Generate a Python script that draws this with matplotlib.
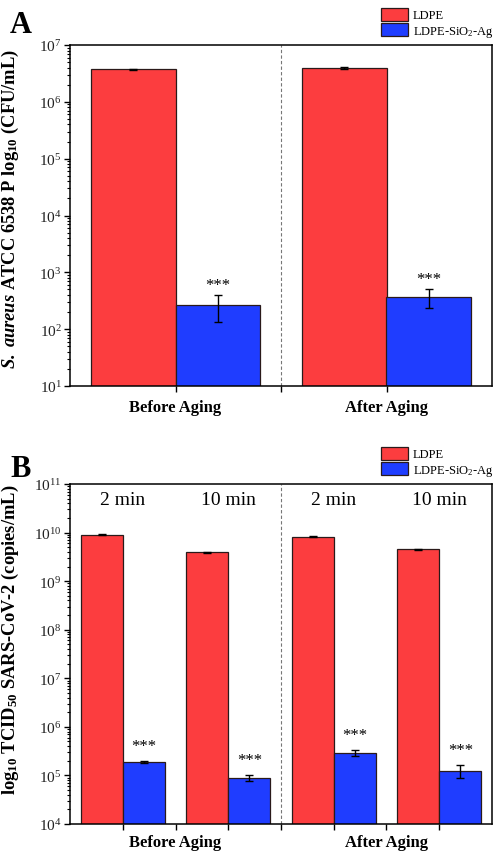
import matplotlib
matplotlib.use("Agg")
import matplotlib.pyplot as plt
import numpy as np

# ---------------- data ----------------
groups_A = ["Before Aging", "After Aging"]
ldpe_A = [3.75e6, 3.9e6]
ldpe_A_err = [0.5e5, 1.2e5]
sag_A = [267, 370]
sag_A_err = [135, 130]

groups_B = ["Before Aging", "After Aging"]
times_B = ["2 min", "10 min", "2 min", "10 min"]
ldpe_B = [9.0e9, 3.9e9, 8.2e9, 4.5e9]
ldpe_B_err = [2e8, 0.5e8, 1.5e8, 0.5e8]
sag_B = [1.9e5, 8.8e4, 2.9e5, 1.25e5]
sag_B_err = [1.0e4, 1.2e4, 4.0e4, 3.7e4]

series_labels = ["LDPE", "LDPE-SiO$_2$-Ag"]
sig_label = "***"

# ---------------- style ----------------
plt.rcParams['font.family'] = ['Liberation Serif', 'DejaVu Serif']
plt.rcParams['mathtext.fontset'] = 'custom'
plt.rcParams['mathtext.rm'] = 'Liberation Serif'
plt.rcParams['mathtext.it'] = 'Liberation Serif:italic'
plt.rcParams['mathtext.bf'] = 'Liberation Serif:bold'
plt.rcParams['mathtext.bfit'] = 'Liberation Serif:italic:bold'

RED = '#FC3D3F'
BLUE = '#1F3DFF'
EDGE = '#2a1a1a'
W, H = 493, 854
fig = plt.figure(figsize=(W / 100, H / 100), dpi=100)


def style_axes(ax, xpad):
    for s in ax.spines.values():
        s.set_linewidth(1.1)
    ax.tick_params(axis='y', which='major', direction='out', length=4, width=1,
                   labelsize=11, colors='black', labelcolor='#222', pad=2)
    ax.tick_params(axis='y', which='minor', direction='out', length=2.2, width=0.8)
    ax.tick_params(axis='x', which='major', direction='out', length=4, width=1,
                   labelsize=12, pad=xpad)
    ax.tick_params(right=False, top=False)


def add_legend(ax):
    h = [plt.Rectangle((0, 0), 1, 1, facecolor=RED, edgecolor=EDGE, lw=0.9),
         plt.Rectangle((0, 0), 1, 1, facecolor=BLUE, edgecolor=EDGE, lw=0.9)]
    ax.legend(h, series_labels, loc='lower right', bbox_to_anchor=(1.004, 1.018),
              frameon=False, fontsize=9, handlelength=2.2, handleheight=1.2,
              handletextpad=0.35, labelspacing=0.15, borderpad=0, borderaxespad=0)


# ---------------- panel A ----------------
axA = fig.add_axes([70 / W, 1 - 387 / H, 422 / W, 341 / H])
xA = np.arange(len(groups_A))
bw = 0.4
axA.bar(xA - bw / 2, ldpe_A, bw, color=RED, edgecolor=EDGE, lw=0.9,
        yerr=ldpe_A_err, error_kw=dict(ecolor='black', elinewidth=1, capsize=3, capthick=1))
axA.bar(xA + bw / 2, sag_A, bw, color=BLUE, edgecolor=EDGE, lw=0.9,
        yerr=sag_A_err, error_kw=dict(ecolor='black', elinewidth=1, capsize=3, capthick=1))
for xi, v, e in zip(xA, sag_A, sag_A_err):
    axA.annotate(sig_label, (xi + bw / 2, v + e), xytext=(0, 1.5), textcoords='offset points',
                 ha='center', va='bottom', fontsize=12)
axA.set_yscale('log')
axA.set_ylim(10, 1e7)
axA.set_xlim(-0.5, 1.5)
axA.axvline(0.5, color='#777', lw=0.8, ls=(0, (3, 2)))
axA.set_xticks(xA)
axA.set_xticklabels(groups_A, fontweight='bold')
axA.set_xticks([0.5], minor=True)
axA.tick_params(axis='x', which='minor', length=4, width=1, direction='out')
style_axes(axA, 5.5)
axA.set_ylabel(r"$\mathbfit{S.\ aureus}$ ATCC 6538 P log$_{\mathbf{10}}$ (CFU/mL)",
               fontsize=13.3, fontweight='bold', labelpad=3)
axA.yaxis.set_label_coords(-0.115, 0.522)
add_legend(axA)
fig.text(10 / W, 1 - 33 / H, "A", fontsize=22, fontweight='bold', ha='left', va='baseline')

# ---------------- panel B ----------------
axB = fig.add_axes([70 / W, 1 - 825 / H, 422 / W, 340 / H])
xB = np.arange(len(times_B))
axB.bar(xB - bw / 2, ldpe_B, bw, color=RED, edgecolor=EDGE, lw=0.9,
        yerr=ldpe_B_err, error_kw=dict(ecolor='black', elinewidth=1, capsize=3, capthick=1))
axB.bar(xB + bw / 2, sag_B, bw, color=BLUE, edgecolor=EDGE, lw=0.9,
        yerr=sag_B_err, error_kw=dict(ecolor='black', elinewidth=1, capsize=3, capthick=1))
for xi, v, e in zip(xB, sag_B, sag_B_err):
    axB.annotate(sig_label, (xi + bw / 2, v + e), xytext=(0, 5), textcoords='offset points',
                 ha='center', va='bottom', fontsize=12)
for xi, t in zip(xB, times_B):
    axB.text(xi, 4.8e10, t, ha='center', va='center', fontsize=14)
axB.set_yscale('log')
axB.set_ylim(1e4, 1e11)
axB.set_xlim(-0.5, 3.5)
axB.axvline(1.5, color='#777', lw=0.8, ls=(0, (3, 2)))
axB.set_xticks([0.5, 2.5])
axB.set_xticklabels(groups_B, fontweight='bold')
axB.set_xticks(list(xB) + [1.5], minor=True)
axB.tick_params(axis='x', which='minor', length=4, width=1, direction='out')
style_axes(axB, 3.5)
axB.set_ylabel(r"log$_{\mathbf{10}}$ TCID$_{\mathbf{50}}$ SARS-CoV-2 (copies/mL)",
               fontsize=13.3, fontweight='bold', labelpad=3)
axB.yaxis.set_label_coords(-0.115, 0.544)
add_legend(axB)
fig.text(10 / W, 1 - 477 / H, "B", fontsize=22, fontweight='bold', ha='left', va='baseline')

fig.savefig("out.png", dpi=100)
